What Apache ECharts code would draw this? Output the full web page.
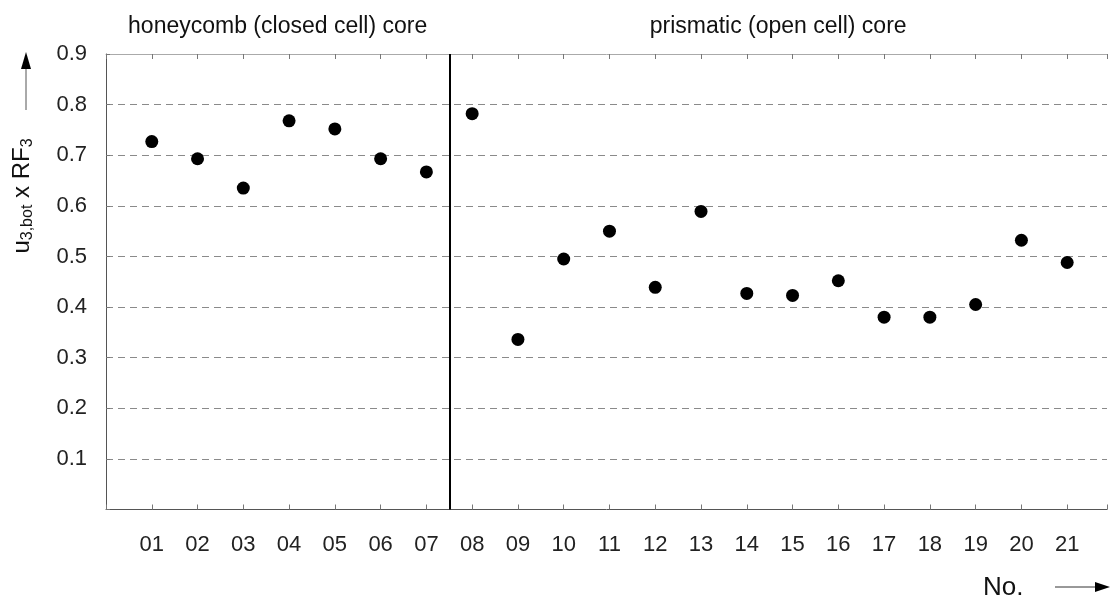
<!DOCTYPE html>
<html>
<head>
<meta charset="utf-8">
<script src="https://cdn.jsdelivr.net/npm/echarts@6/dist/echarts.min.js"></script>
<style>
  html, body { margin: 0; padding: 0; background: #fff; }
  #chart { width: 1110px; height: 601px; }
</style>
</head>
<body>
<div id="chart"></div>
<script>
// Specimen numbers along the x axis
const sampleNo = ['01','02','03','04','05','06','07','08','09','10','11',
                  '12','13','14','15','16','17','18','19','20','21'];
// u_3,bot x RF_3 for each specimen
const uRF = [0.727, 0.693, 0.635, 0.768, 0.752, 0.693, 0.667,
             0.782, 0.336, 0.495, 0.550, 0.439, 0.589, 0.427,
             0.423, 0.452, 0.380, 0.380, 0.405, 0.532, 0.488];
// Core type groups and the boundary between them (in specimen units)
const groupNames = ['honeycomb (closed cell) core', 'prismatic (open cell) core'];
const groupBreak = 7.5;

const FONT = "'Liberation Sans', Arial, sans-serif";
const X_MAX = 21.87;

const points = uRF.map((v, i) => [i + 1, v]);

const chart = echarts.init(document.getElementById('chart'), null, { renderer: 'canvas' });

const xCommon = {
  type: 'value',
  min: 0,
  max: X_MAX,
  interval: 1,
  splitLine: { show: false },
  axisTick: { show: true, inside: true, length: 5, lineStyle: { color: '#777', width: 1 } }
};

chart.setOption({
  animation: false,
  backgroundColor: '#fff',
  grid: { left: 106, right: 0, top: 54, bottom: 91.5, containLabel: false },
  xAxis: [
    Object.assign({}, xCommon, {
      position: 'bottom',
      axisLine: { show: true, onZero: false, lineStyle: { color: '#555', width: 1 } },
      axisLabel: {
        margin: 24,
        fontSize: 22,
        fontFamily: FONT,
        color: '#222',
        formatter: v => (Number.isInteger(v) && v >= 1 && v <= sampleNo.length) ? sampleNo[v - 1] : ''
      }
    }),
    Object.assign({}, xCommon, {
      position: 'top',
      axisLine: { show: true, onZero: false, lineStyle: { color: '#aaa', width: 1 } },
      axisLabel: { show: false }
    })
  ],
  yAxis: {
    type: 'value',
    min: 0,
    max: 0.9,
    interval: 0.1,
    axisLine: { show: true, lineStyle: { color: '#555', width: 1 } },
    axisTick: { show: true, inside: true, length: 4, lineStyle: { color: '#777' } },
    axisLabel: {
      margin: 19,
      fontSize: 22,
      fontFamily: FONT,
      color: '#222',
      formatter: v => v < 0.05 ? '' : v.toFixed(1)
    },
    splitLine: {
      show: true,
      showMinLine: false,
      showMaxLine: false,
      lineStyle: { color: '#8a8a8a', width: 1, type: [7, 5] }
    }
  },
  series: [{
    type: 'scatter',
    data: points,
    symbol: 'circle',
    symbolSize: 13,
    itemStyle: { color: '#000', opacity: 1 },
    silent: true,
    markLine: {
      silent: true,
      symbol: 'none',
      label: { show: false },
      lineStyle: { color: '#000', width: 2, type: 'solid', opacity: 1 },
      data: [{ xAxis: groupBreak }]
    }
  }]
});

// Group captions centred over each part of the x range
const cx1 = chart.convertToPixel({ xAxisIndex: 0 }, groupBreak / 2);
const cx2 = chart.convertToPixel({ xAxisIndex: 0 }, (groupBreak + X_MAX) / 2);

chart.setOption({
  graphic: [
    {
      type: 'text', x: cx1, y: 27,
      style: { text: groupNames[0], font: '23px ' + FONT, fill: '#111', align: 'center', verticalAlign: 'middle' }
    },
    {
      type: 'text', x: cx2, y: 27,
      style: { text: groupNames[1], font: '23px ' + FONT, fill: '#111', align: 'center', verticalAlign: 'middle' }
    },
    // y-axis title, rotated
    {
      type: 'text', x: 22, y: 196, rotation: Math.PI / 2,
      style: {
        text: '{m|u}{s|3,bot}{m| x RF}{s|3}',
        align: 'center', verticalAlign: 'middle',
        fill: '#111',
        rich: {
          m: { fontSize: 24, fontFamily: FONT, fill: '#111', lineHeight: 28, verticalAlign: 'middle' },
          s: { fontSize: 16, fontFamily: FONT, fill: '#111', lineHeight: 28, verticalAlign: 'bottom' }
        }
      }
    },
    // upward arrow above the y-axis title
    { type: 'line', shape: { x1: 26, y1: 110, x2: 26, y2: 64 }, style: { stroke: '#555', lineWidth: 1 } },
    { type: 'polygon', shape: { points: [[26, 52], [21, 69], [31, 69]] }, style: { fill: '#000' } },
    // x-axis title with rightward arrow
    {
      type: 'text', x: 983, y: 588,
      style: { text: 'No.', font: '26px ' + FONT, fill: '#111', align: 'left', verticalAlign: 'middle' }
    },
    { type: 'line', shape: { x1: 1055, y1: 587, x2: 1098, y2: 587 }, style: { stroke: '#333', lineWidth: 1 } },
    { type: 'polygon', shape: { points: [[1110, 587], [1095, 582], [1095, 592]] }, style: { fill: '#000' } }
  ]
});
</script>
</body>
</html>
